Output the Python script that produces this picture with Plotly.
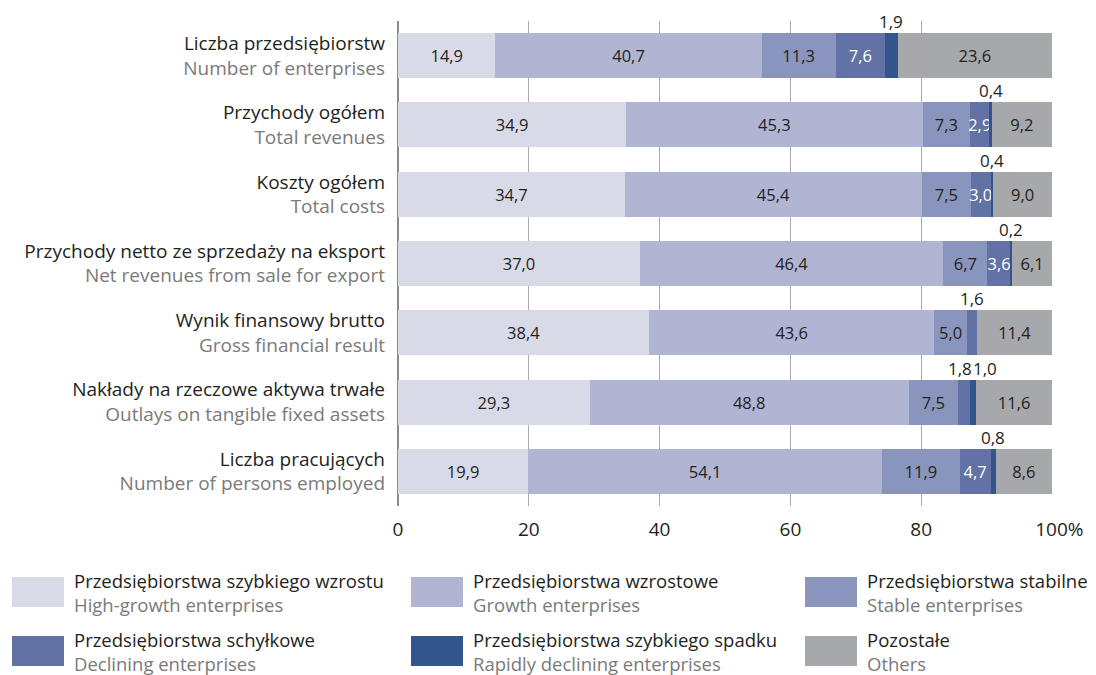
import plotly.graph_objects as go

# categories (Polish / English)
cats_pl = ['Liczba przedsiębiorstw', 'Przychody ogółem', 'Koszty ogółem',
           'Przychody netto ze sprzedaży na eksport', 'Wynik finansowy brutto',
           'Nakłady na rzeczowe aktywa trwałe', 'Liczba pracujących']
cats_en = ['Number of enterprises', 'Total revenues', 'Total costs',
           'Net revenues from sale for export', 'Gross financial result',
           'Outlays on tangible fixed assets', 'Number of persons employed']

# series names
names_pl = ['Przedsiębiorstwa szybkiego wzrostu', 'Przedsiębiorstwa wzrostowe',
            'Przedsiębiorstwa stabilne', 'Przedsiębiorstwa schyłkowe',
            'Przedsiębiorstwa szybkiego spadku', 'Pozostałe']
names_en = ['High-growth enterprises', 'Growth enterprises', 'Stable enterprises',
            'Declining enterprises', 'Rapidly declining enterprises', 'Others']

# values in %
high_growth = [14.9, 34.9, 34.7, 37.0, 38.4, 29.3, 19.9]
growth = [40.7, 45.3, 45.4, 46.4, 43.6, 48.8, 54.1]
stable = [11.3, 7.3, 7.5, 6.7, 5.0, 7.5, 11.9]
declining = [7.6, 2.9, 3.0, 3.6, 1.6, 1.8, 4.7]
rapid_decl = [1.9, 0.4, 0.4, 0.2, 0.0, 1.0, 0.8]
others = [23.6, 9.2, 9.0, 6.1, 11.4, 11.6, 8.6]

x_ticks = [0, 20, 40, 60, 80, 100]
x_ticktext = ['0', '20', '40', '60', '80', '\u00a0\u00a0\u00a0100%']

series = [high_growth, growth, stable, declining, rapid_decl, others]
colors = ['#d8dae8', '#b0b5d3', '#8a95bd', '#6272a4', '#34548e', '#a7a8ab']
text_colors = ['#231f20', '#231f20', '#231f20', '#ffffff', '#ffffff', '#231f20']

FONT = 'Open Sans'
FS = 19
FS_LEG = 18.5
FS_BAR = 16.5
DARK = '#231f20'
GREY = '#7a7a7a'

# figure geometry (page is offset by the 8px body margin)
W, H = 1088, 667
L, R, T, B = 390, 44, 13, 169
PW, PH = W - L - R, H - T - B


def fmt(v):
    return f'{v:.1f}'.replace('.', ',')


def px(x):  # page x -> paper
    return (x - 8 - L) / PW


def py(y):  # page y -> paper
    return (H - B - (y - 8)) / PH


ylabels = [f'{p}<br><span style="color:{GREY}">{e}</span>' for p, e in zip(cats_pl, cats_en)]

fig = go.Figure()
for vals, name, col, tcol in zip(series, names_pl, colors, text_colors):
    fig.add_trace(go.Bar(
        y=ylabels, x=vals, orientation='h', name=name,
        marker=dict(color=col, line=dict(width=0)),
        text=[fmt(v) if v >= 2.5 else '' for v in vals],
        textposition='inside', insidetextanchor='middle', textangle=0,
        constraintext='none',
        textfont=dict(color=tcol, size=FS_BAR, family=FONT),
        hoverinfo='x+name', width=0.65, showlegend=False,
    ))

# small values labelled above the bar
shift = {(5, 3): -4, (5, 4): 12}
for i, lab in enumerate(ylabels):
    cum = 0
    for s, vals in enumerate(series):
        v = vals[i]
        if 0 < v < 2.5:
            fig.add_annotation(x=cum + v / 2, y=lab, text=fmt(v), showarrow=False,
                               yshift=34, xshift=shift.get((i, s), 0),
                               font=dict(size=17, color=DARK, family=FONT))
        cum += v

# custom legend (3 columns x 2 rows, big swatches)
leg_left = [12, 411, 805]
leg_top = [577, 636]
for k, (npl, nen, col) in enumerate(zip(names_pl, names_en, colors)):
    x0, y0 = leg_left[k % 3], leg_top[k // 3]
    fig.add_shape(type='rect', xref='paper', yref='paper',
                  x0=px(x0), x1=px(x0 + 52), y0=py(y0), y1=py(y0 + 30),
                  line=dict(width=0), fillcolor=col)
    fig.add_annotation(xref='paper', yref='paper', x=px(x0 + 60), y=py(y0 - 11),
                       xanchor='left', yanchor='top', align='left', showarrow=False,
                       text=f'{npl}<br><span style="color:{GREY}">{nen}</span>',
                       font=dict(size=FS_LEG, color=DARK, family=FONT))

fig.update_layout(
    width=W, height=H,
    margin=dict(l=L, r=R, t=T, b=B, autoexpand=False),
    barmode='stack', bargap=0.35,
    paper_bgcolor='white', plot_bgcolor='white',
    font=dict(family=FONT, size=FS, color=DARK),
    separators=', ',
)
fig.update_xaxes(range=[0, 100], tickvals=x_ticks, ticktext=x_ticktext,
                 showgrid=True, gridcolor='#ababab', gridwidth=1,
                 zeroline=True, zerolinecolor='#8c8c8c', zerolinewidth=1.5,
                 showline=False, ticks='', ticklabelstandoff=10,
                 tickfont=dict(size=FS, color=DARK, family=FONT))
fig.update_yaxes(range=[6.5, -0.5], autorange=False, showgrid=False, ticks='',
                 ticklabelstandoff=12,
                 tickfont=dict(size=FS, color=DARK, family=FONT))

fig.write_html('out.html')
